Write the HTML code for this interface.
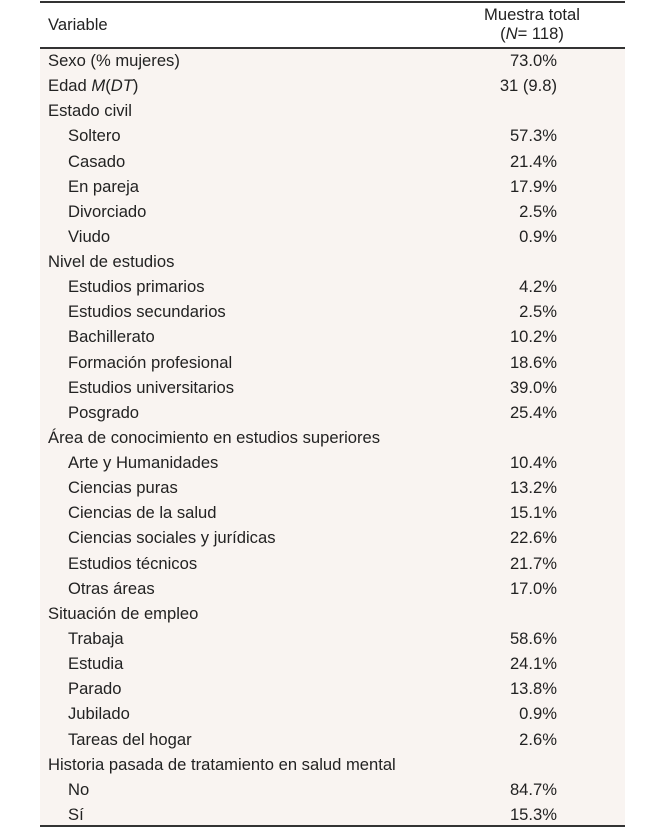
<!DOCTYPE html>
<html><head><meta charset="utf-8"><style>
body{margin:0;width:650px;height:827px;background:#fff;font-family:"Liberation Sans",sans-serif;color:#222;position:relative;overflow:hidden}
#tbl{position:absolute;left:40px;top:0;width:585px;height:827px}
.line{position:absolute;left:0;width:585px;height:1.5px;background:#333}
#body{position:absolute;left:0;top:48px;width:585px;height:778px;background:#f9f4f1}
.row{position:absolute;left:0;width:585px;height:25px;font-size:16.6px;line-height:25px}
.lab{position:absolute;left:8px;white-space:nowrap}
.lab.ind{left:28px}
.val{position:absolute;right:68px;white-space:nowrap}
.hdr{position:absolute;font-size:16.6px;line-height:19px}
</style></head><body>
<div id="tbl">
<div class="line" style="top:1px"></div>
<div class="hdr" style="left:8px;top:15px">Variable</div>
<div class="hdr" style="left:422px;top:5px;width:140px;text-align:center">Muestra total<br>(<i>N</i>= 118)</div>
<div id="body"></div>
<div class="line" style="top:47px"></div>
<div class="line" style="top:825px"></div>
<div id="rows"></div>
</div>
<script>
const labels=["Sexo (% mujeres)","Edad <i>M</i>(<i>DT</i>)","Estado civil","Soltero","Casado","En pareja","Divorciado","Viudo","Nivel de estudios","Estudios primarios","Estudios secundarios","Bachillerato","Formación profesional","Estudios universitarios","Posgrado","Área de conocimiento en estudios superiores","Arte y Humanidades","Ciencias puras","Ciencias de la salud","Ciencias sociales y jurídicas","Estudios técnicos","Otras áreas","Situación de empleo","Trabaja","Estudia","Parado","Jubilado","Tareas del hogar","Historia pasada de tratamiento en salud mental","No","Sí"];
const values=["73.0%","31 (9.8)","","57.3%","21.4%","17.9%","2.5%","0.9%","","4.2%","2.5%","10.2%","18.6%","39.0%","25.4%","","10.4%","13.2%","15.1%","22.6%","21.7%","17.0%","","58.6%","24.1%","13.8%","0.9%","2.6%","","84.7%","15.3%"];
const indent=[0,0,0,1,1,1,1,1,0,1,1,1,1,1,1,0,1,1,1,1,1,1,0,1,1,1,1,1,0,1,1];
const c=document.getElementById('rows');
labels.forEach((l,i)=>{
 const r=document.createElement('div');r.className='row';
 r.style.top=(48+i*25.13)+'px';
 
 
 const a=document.createElement('span');a.className='lab'+(indent[i]?' ind':'');a.innerHTML=l;
 
 
 r.appendChild(a);
 if(values[i]){const v=document.createElement('span');v.className='val';v.textContent=values[i];
 
 
 r.appendChild(v);}
 c.appendChild(r);
});
</script>
</body></html>
